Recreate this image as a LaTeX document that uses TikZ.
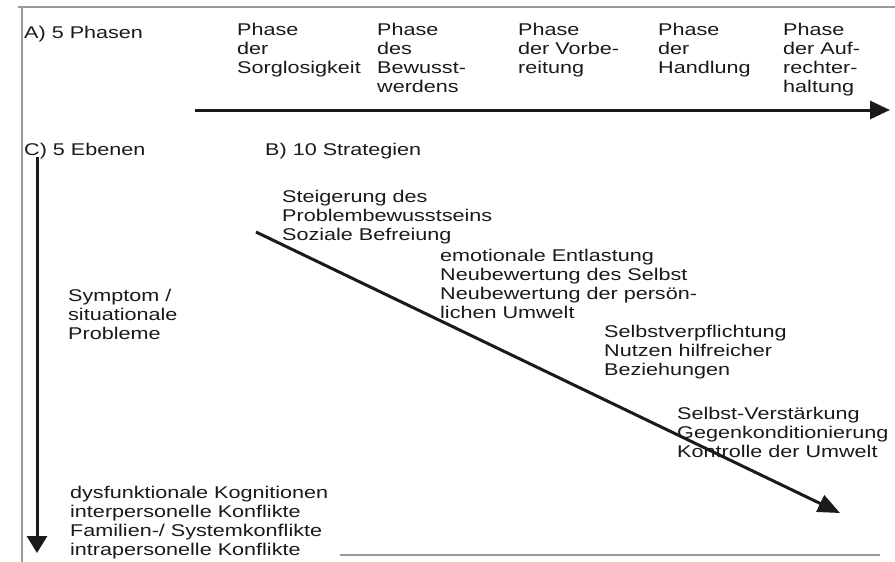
\documentclass[tikz,border=0pt]{standalone}
\usepackage{fontspec}
\setmainfont{Liberation Sans}[FakeStretch=1.27]
\usetikzlibrary{arrows.meta,positioning}
\definecolor{scanframe}{HTML}{9A9A9A}
\definecolor{scanink}{HTML}{1A1A1A}

\begin{document}
\begin{tikzpicture}[x=1pt,y=-1pt,
lbl/.style={anchor=north west,align=left,inner sep=0pt,text=scanink,
font=\fontsize{17}{19}\selectfont},
frame/.style={draw=scanframe,line width=1.5pt},
axis/.style={draw=scanink,line width=3pt},
]
\useasboundingbox (0,0) rectangle (895,562);
\fill[white] (0,0) rectangle (895,562);
\draw[frame] (18,7) -- (895,7);
\draw[frame] (22,7) -- (22,562);
\draw[frame] (340,555) -- (880,555);

\node[lbl] (phasen) at (24,25.5) {A) 5 Phasen};
\node[lbl] (p1) at (237,22.5) {Phase\\der\\Sorglosigkeit};
\node[lbl] (p2) at (377,22.5) {Phase\\des\\Bewusst-\\werdens};
\node[lbl] (p3) at (518,22.5) {Phase\\der Vorbe-\\reitung};
\node[lbl] (p4) at (658,22.5) {Phase\\der\\Handlung};
\node[lbl] (p5) at (783,22.5) {Phase\\der Auf-\\rechter-\\haltung};

\node[lbl] (ebenen) at (24,142.5) {C) 5 Ebenen};
\node[lbl] (strat) at (265,142.5) {B) 10 Strategien};

\node[lbl] (s1) at (282,189.5) {Steigerung des\\Problembewusstseins\\Soziale Befreiung};
\node[lbl] (s2) at (440,248.5) {emotionale Entlastung\\Neubewertung des Selbst\\Neubewertung der persön-\\lichen Umwelt};
\node[lbl] (s3) at (604,324.5) {Selbstverpflichtung\\Nutzen hilfreicher\\Beziehungen};
\node[lbl] (s4) at (677,406.5) {Selbst-Verstärkung\\Gegenkonditionierung\\Kontrolle der Umwelt};

\node[lbl] (e1) at (68,288.5) {Symptom /\\situationale\\Probleme};
\node[lbl] (e2) at (70,485.5) {dysfunktionale Kognitionen\\interpersonelle Konflikte\\Familien-/ Systemkonflikte\\intrapersonelle Konflikte};

\coordinate (phStart) at (195,110);
\coordinate (phEnd) at (890,110);
\coordinate (ebStart) at (37,157);
\coordinate (ebEnd) at (37,553);
\coordinate (stStart) at (256,232);
\coordinate (stEnd) at (840,513);

\draw[axis,-{Triangle[length=20pt,width=18pt]}] (phStart) -- (phEnd);
\draw[axis,-{Triangle[length=17pt,width=20pt]}] (ebStart) -- (ebEnd);
\draw[axis,-{Triangle[length=22pt,width=18pt]}] (stStart) -- (stEnd);
\end{tikzpicture}
\end{document}
